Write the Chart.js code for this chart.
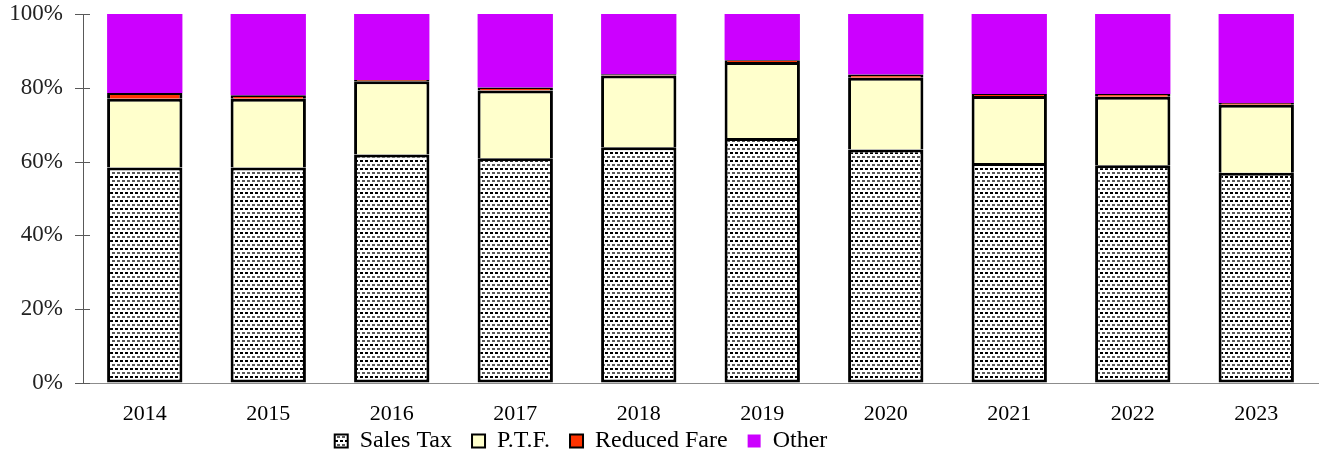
<!DOCTYPE html>
<html>
<head>
<meta charset="utf-8">
<script src="https://cdn.jsdelivr.net/npm/chart.js@4.4.1/dist/chart.umd.min.js"></script>
<style>
  html, body { margin: 0; padding: 0; background: #fff; }
  #wrap { width: 1323px; height: 457px; position: relative; }
</style>
</head>
<body>
<div id="wrap"><canvas id="c" width="1323" height="457"></canvas></div>
<script>
// ---- data ----
const years = ['2014','2015','2016','2017','2018','2019','2020','2021','2022','2023'];
const salesTax    = [58.4, 58.4, 61.9, 60.9, 63.9, 66.4, 63.3, 59.6, 59.0, 57.0];
const ptf         = [18.6, 18.6, 19.9, 18.4, 19.4, 20.6, 19.4, 18.2, 18.6, 18.4];
const reducedFare = [1.6, 1.0, 0.3, 0.8, 0.4, 0.5, 0.9, 0.5, 0.7, 0.5];
const other       = [21.4, 22.0, 17.9, 19.9, 16.3, 12.5, 16.4, 21.7, 21.7, 24.1];
const yTicks      = [0, 20, 40, 60, 80, 100];
const seriesNames = ['Sales Tax', 'P.T.F.', 'Reduced Fare', 'Other'];

// ---- dotted pattern for Sales Tax ----
function makePattern() {
  const p = document.createElement('canvas');
  p.width = 10; p.height = 8;
  const g = p.getContext('2d');
  g.fillStyle = '#ffffff'; g.fillRect(0, 0, 10, 8);
  g.fillStyle = '#000000';
  g.fillRect(0, 0, 3, 2);
  g.fillRect(5, 0, 3, 2);
  g.fillStyle = '#5a5a5a';
  g.fillRect(2, 4, 3, 2);
  g.fillRect(7, 4, 3, 2);
  return g.createPattern(p, 'repeat');
}
const ctx = document.getElementById('c').getContext('2d');
const dotPattern = makePattern();

const FONT = "'Liberation Serif', 'Times New Roman', serif";

// tick marks crossing the y axis (outside and inside)
const axisTicks = {
  id: 'axisTicks',
  afterDraw(chart) {
    const y = chart.scales.y;
    const c = chart.ctx;
    c.save();
    c.strokeStyle = '#595959';
    c.lineWidth = 1;
    y.ticks.forEach(t => {
      const py = Math.round(y.getPixelForValue(t.value)) + 0.5;
      c.beginPath();
      c.moveTo(y.right - 8, py);
      c.lineTo(y.right + 7, py);
      c.stroke();
    });
    c.restore();
  }
};

const placeLegend = {
  id: 'placeLegend',
  afterLayout(chart) {
    const lg = chart.legend;
    if (lg) { lg.left -= 78; lg.right -= 78; lg.top -= 24; lg.bottom -= 24; }
  }
};

new Chart(ctx, {
  type: 'bar',
  data: {
    labels: years,
    datasets: [
      { label: seriesNames[0], data: salesTax, backgroundColor: dotPattern, borderColor: '#000',
        borderWidth: 3, borderSkipped: false },
      { label: seriesNames[1], data: ptf, backgroundColor: '#FFFFCC', borderColor: '#000',
        borderWidth: {top: 3, left: 3, right: 3, bottom: 0}, borderSkipped: false },
      { label: seriesNames[2], data: reducedFare, backgroundColor: '#FF3300', borderColor: '#000',
        borderWidth: {top: 2, left: 3, right: 3, bottom: 0}, borderSkipped: false },
      { label: seriesNames[3], data: other, backgroundColor: '#CC00FF', borderWidth: 0 }
    ]
  },
  options: {
    responsive: false,
    animation: false,
    layout: { padding: { left: 0, right: 5, top: 14, bottom: -30 } },
    datasets: { bar: { barPercentage: 0.61, categoryPercentage: 1.0 } },
    plugins: {
      tooltip: { enabled: false },
      legend: {
        position: 'bottom',
        labels: {
          color: '#000',
          font: { family: FONT, size: 24 },
          boxWidth: 13, boxHeight: 13,
          padding: 20,
          generateLabels(chart) {
            return chart.data.datasets.map((ds, i) => ({
              text: ds.label,
              fillStyle: ds.backgroundColor,
              strokeStyle: '#000',
              lineWidth: i === 3 ? 0 : 2,
              hidden: false,
              datasetIndex: i,
              fontColor: '#000'
            }));
          }
        }
      }
    },
    scales: {
      x: {
        stacked: true,
        grid: { display: false },
        border: { display: true, color: '#8c8c8c', width: 1 },
        ticks: { color: '#000', font: { family: FONT, size: 22 }, padding: 10 },
        afterFit(s) { s.height = 50; }
      },
      y: {
        stacked: true,
        min: 0, max: 100,
        afterBuildTicks(s) { s.ticks = yTicks.map(v => ({ value: v })); },
        grid: { drawOnChartArea: false, drawTicks: true, tickLength: 20, color: 'rgba(0,0,0,0)' },
        border: { display: true, color: '#595959', width: 1 },
        ticks: { color: '#222', font: { family: FONT, size: 23 }, padding: 0,
                 callback: v => v + '%' },
        afterFit(s) { s.width = 83; }
      }
    }
  },
  plugins: [axisTicks, placeLegend]
});
</script>
</body>
</html>
